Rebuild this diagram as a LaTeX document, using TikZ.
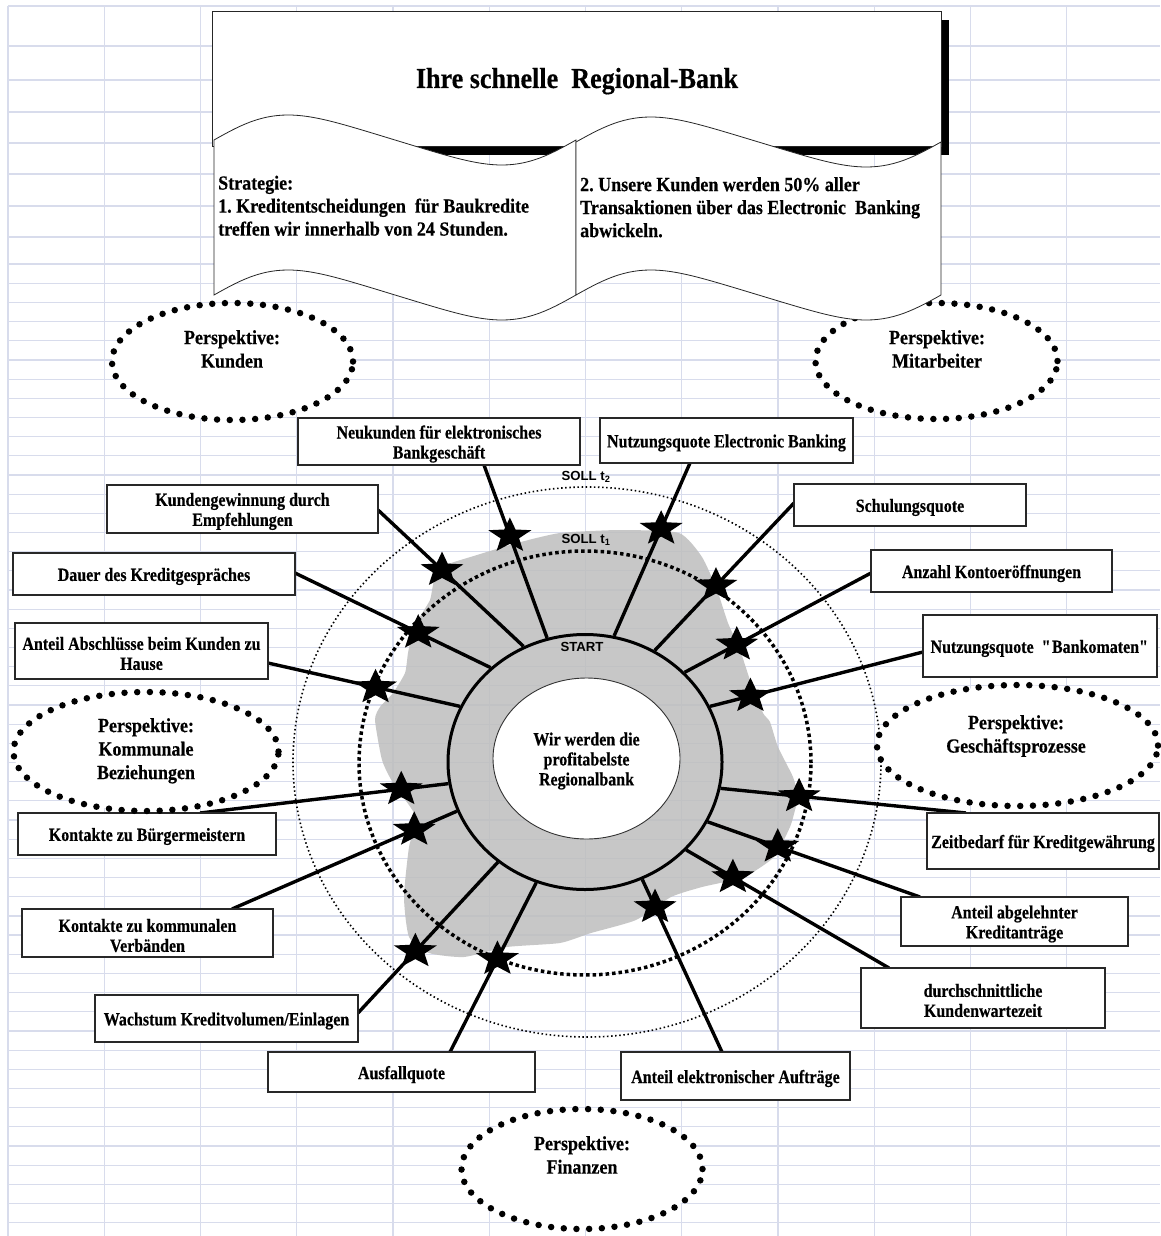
\documentclass[tikz,border=0pt]{standalone}
\usepackage{fontspec}
\setmainfont{Liberation Serif}[FakeStretch=0.9, BoldFeatures={FakeBold=0.4}]
\newfontfamily\boxserif{Liberation Serif}[FakeStretch=0.86, BoldFeatures={FakeBold=0.4}]
\newfontfamily\labelsans{Liberation Sans}
\usetikzlibrary{shapes.geometric,calc}
\definecolor{gridline}{RGB}{216,220,236}
\definecolor{blobgray}{RGB}{190,190,190}
\definecolor{boxline}{RGB}{40,40,40}
\newcommand\txt[2]{\frenchspacing\fontsize{#1}{#2}\selectfont\bfseries}
\newcommand\sanslbl{\labelsans\fontsize{13.2}{15}\selectfont\bfseries}

\begin{document}
\begin{tikzpicture}[x=1pt,y=-1pt,
  boxtext/.style={font=\boxserif\txt{18.6}{20}, align=center, inner sep=0pt, yshift=-2.5pt},
  kpibox/.style={draw=boxline, line width=1.1pt, fill=white, inner sep=0pt,
    label={[boxtext]center:{#1}}},
  perspective/.style={ellipse, draw, fill=white, line width=6.5pt, line cap=round,
    dash pattern=on 0pt off 12.7pt, inner sep=0pt},
  perlabel/.style={anchor=north, align=center, inner sep=0pt, font=\txt{20}{23.5}},
  spoke/.style={line width=3.4pt},
  wavebox/.style={draw=black!85, line width=0.8pt, fill=white},
  gridrule/.style={draw=gridline, line width=1.2pt},
  starmark/.pic={\fill[xscale=1.1, yscale=0.9] (-90:20.5) -- (-126:8.8) -- (-162:20.5)
    -- (-198:8.8) -- (-234:20.5) -- (-270:8.8) -- (-306:20.5) -- (-342:8.8) -- (-378:20.5)
    -- (-414:8.8) -- cycle;},
  ]
\useasboundingbox (0,0) rectangle (1160,1236);
\fill[white] (0,0) rectangle (1160,1236);

% spreadsheet grid
\foreach \gx in {0,...,11}
  \draw[gridrule] ({8+96.25*\gx},6) -- ({8+96.25*\gx},1236);
\foreach \gy in {6,46,80,112,143,174,206,237,264}
  \draw[gridrule] (8,\gy) -- (1160,\gy);
\foreach \k in {0,...,49}
  \draw[gridrule] (8,{283.3+19.17*\k}) -- (1160,{283.3+19.17*\k});

% grey area of the current state
\fill[blobgray, fill opacity=0.85] plot[smooth cycle, tension=0.35] coordinates {
  (438,568) (477,555) (517,543) (560,533) (620,530) (679,533) (702,557) (717,590)
  (728,623) (740,650) (751,683) (763,713) (770,722) (778,747) (793,777) (798,797)
  (795,810) (790,827) (774,857) (744,877) (702,887) (671,897) (636,920) (591,933)
  (560,943) (507,947) (464,957) (429,953) (409,937) (404,897) (409,847) (416,817)
  (393,783) (382,760) (375,720) (380,707) (393,693) (405,673) (408,653) (413,630)
  (421,615) (430,600) (433,585)};

% target circles and centre
\node[ellipse, draw, line width=1.6pt, dash pattern=on 1.5pt off 2.6pt,
  minimum width=588pt, minimum height=550pt, inner sep=0pt] (solltwo) at (587,762) {};
\node[ellipse, draw, line width=3.5pt, dash pattern=on 3.5pt off 3pt,
  minimum width=452pt, minimum height=424pt, inner sep=0pt] (sollone) at (585,763) {};
\node[ellipse, draw, line width=3pt, minimum width=274pt, minimum height=255pt,
  inner sep=0pt] (ring) at (585,762) {};
\node[ellipse, draw=black!80, line width=0.9pt, fill=white, minimum width=187pt,
  minimum height=161pt, inner sep=0pt,
  label={[boxtext]center:{Wir werden die\\profitabelste\\Regionalbank}}]
  (core) at (586.5,758.5) {};

\node[inner sep=0pt, font=\sanslbl] (startlbl) at (582,647) {START};
\node[inner sep=0pt, font=\sanslbl] (sollTwoLbl) at (586,477) {SOLL t\textsubscript{2}};
\node[inner sep=0pt, font=\sanslbl] (sollOneLbl) at (586,540) {SOLL t\textsubscript{1}};

% connector end points on the indicator boxes
\coordinate (e1) at (484,465);
\coordinate (e2) at (690,463);
\coordinate (e3) at (378,510);
\coordinate (e4) at (794,503);
\coordinate (e5) at (295,573);
\coordinate (e6) at (871,573);
\coordinate (e7) at (268,663);
\coordinate (e8) at (923,652);
\coordinate (e9) at (200,813);
\coordinate (e10) at (232,909);
\coordinate (e11) at (358,1013);
\coordinate (e12) at (450,1052);
\coordinate (e13) at (722,1052);
\coordinate (e14) at (889,968);
\coordinate (e15) at (920,897);
\coordinate (e16) at (966,813);

% spokes
\draw[spoke] (ring.107.7) -- (e1);
\draw[spoke] (ring.77.3) -- (e2);
\draw[spoke] (ring.118.5) -- (e3);
\draw[spoke] (ring.58.9) -- (e4);
\draw[spoke] (ring.135) -- (e5);
\draw[spoke] (ring.42.9) -- (e6);
\draw[spoke] (ring.156.3) -- (e7);
\draw[spoke] (ring.24.1) -- (e8);
\draw[spoke] (ring.189.6) -- (e9);
\draw[spoke] (ring.201.9) -- (e10);
\draw[spoke] (ring.229.3) -- (e11);
\draw[spoke] (ring.248.3) -- (e12);
\draw[spoke] (ring.296.2) -- (e13);
\draw[spoke] (ring.319.6) -- (e14);
\draw[spoke] (ring.334.7) -- (e15);
\draw[spoke] (ring.349.4) -- (e16);

% stars marking the achieved value on each spoke
\pic at ($(ring.107.7)!0.59!(e1)$) {starmark};
\pic at ($(ring.77.3)!0.62!(e2)$) {starmark};
\pic at ($(ring.118.5)!0.56!(e3)$) {starmark};
\pic at ($(ring.58.9)!0.44!(e4)$) {starmark};
\pic at ($(ring.135)!0.37!(e5)$) {starmark};
\pic at ($(ring.42.9)!0.28!(e6)$) {starmark};
\pic at ($(ring.156.3)!0.44!(e7)$) {starmark};
\pic at ($(ring.24.1)!0.19!(e8)$) {starmark};
\pic at ($(ring.189.6)!0.19!(e9)$) {starmark};
\pic at ($(ring.201.9)!0.19!(e10)$) {starmark};
\pic at ($(ring.229.3)!0.59!(e11)$) {starmark};
\pic at ($(ring.248.3)!0.45!(e12)$) {starmark};
\pic at ($(ring.296.2)!0.16!(e13)$) {starmark};
\pic at ($(ring.319.6)!0.23!(e14)$) {starmark};
\pic at ($(ring.334.7)!0.33!(e15)$) {starmark};
\pic at ($(ring.349.4)!0.32!(e16)$) {starmark};

% indicator boxes
\node[kpibox={Neukunden für elektronisches\\Bankgeschäft}, minimum width=282pt, minimum height=47pt] (nk) at (439,441.5) {};
\node[kpibox={Nutzungsquote Electronic Banking}, minimum width=253pt, minimum height=45pt] (neb) at (726.5,440.5) {};
\node[kpibox={Kundengewinnung durch\\Empfehlungen}, minimum width=271pt, minimum height=48pt] (kge) at (242.5,509) {};
\node[kpibox={Schulungsquote}, minimum width=232pt, minimum height=42pt] (sq) at (910,505) {};
\node[kpibox={Dauer des Kreditgespräches}, minimum width=282pt, minimum height=42pt] (dk) at (154,574) {};
\node[kpibox={Anzahl Kontoeröffnungen}, minimum width=241pt, minimum height=42pt] (ak) at (991.5,571) {};
\node[kpibox={Anteil Abschlüsse beim Kunden zu\\Hause}, minimum width=253pt, minimum height=56pt] (aa) at (141.5,651) {};
\node[kpibox={Nutzungsquote\ \ \textquotedbl Bankomaten\textquotedbl}, minimum width=234pt, minimum height=62pt] (bk) at (1040,646) {};
\node[kpibox={Kontakte zu Bürgermeistern}, minimum width=258pt, minimum height=42pt] (bm) at (147,834) {};
\node[kpibox={Kontakte zu kommunalen\\Verbänden}, minimum width=251pt, minimum height=48pt] (kv) at (147.5,933) {};
\node[kpibox={Wachstum Kreditvolumen/Einlagen}, minimum width=263pt, minimum height=47pt] (wk) at (226.5,1018.5) {};
\node[kpibox={Ausfallquote}, minimum width=267pt, minimum height=40pt] (af) at (401.5,1072) {};
\node[kpibox={Zeitbedarf für Kreditgewährung}, minimum width=232pt, minimum height=56pt] (zb) at (1043,841) {};
\node[kpibox={Anteil abgelehnter\\Kreditanträge}, minimum width=227pt, minimum height=49pt] (ab) at (1014.5,921.5) {};
\node[kpibox={durchschnittliche\\Kundenwartezeit}, minimum width=244pt, minimum height=60pt] (dw) at (983,998) {};
\node[kpibox={Anteil elektronischer Aufträge}, minimum width=229pt, minimum height=48pt] (ae) at (735.5,1076) {};

% perspectives
\node[perspective, minimum width=241pt, minimum height=117pt] (pkunden) at (232.5,361.5) {};
\node[perlabel] (pkundenlbl) at (232,330) {Perspektive:\\Kunden};
\node[perspective, minimum width=242pt, minimum height=116pt] (pmitarb) at (936.5,361) {};
\node[perlabel] (pmitarblbl) at (937,330) {Perspektive:\\Mitarbeiter};
\node[perspective, minimum width=265pt, minimum height=119pt] (pkomm) at (146,751.5) {};
\node[perlabel] (pkommlbl) at (146,718) {Perspektive:\\Kommunale\\Beziehungen};
\node[perspective, minimum width=281pt, minimum height=121pt] (pproz) at (1017.5,745.5) {};
\node[perlabel] (pprozlbl) at (1016,715) {Perspektive:\\Geschäftsprozesse};
\node[perspective, minimum width=241pt, minimum height=120pt] (pfin) at (582,1169) {};
\node[perlabel] (pfinlbl) at (582,1136) {Perspektive:\\Finanzen};

% banner with the vision and the two strategy statements
\fill[black] (221,20) rectangle (949,155);
\draw[wavebox] (212,11) rectangle (941,146);
\node[anchor=base, inner sep=0pt, font=\txt{29}{32}] (title) at (577,88) {Ihre schnelle\ \ Regional-Bank};
% wave edges: phase is skewed so the crest comes early and the trough late
\draw[wavebox]
  plot[domain=214:576, samples=70] (\x,{140-25*sin((\x-214)/362*360+17*sin((\x-214)/362*360))})
  -- plot[domain=576:214, samples=70] (\x,{295-25*sin((\x-214)/362*360+17*sin((\x-214)/362*360))})
  -- cycle;
\draw[wavebox]
  plot[domain=576:941, samples=70] (\x,{142-25*sin((\x-576)/365*360+17*sin((\x-576)/365*360))})
  -- plot[domain=941:576, samples=70] (\x,{295-25*sin((\x-576)/365*360+17*sin((\x-576)/365*360))})
  -- cycle;
\node[anchor=north west, align=left, inner sep=0pt, font=\txt{20}{23}] (goalone) at (218,175.5)
  {Strategie:\\1. Kreditentscheidungen\ \ für Baukredite\\treffen wir innerhalb von 24 Stunden.};
\node[anchor=north west, align=left, inner sep=0pt, font=\txt{20}{23}] (goaltwo) at (580,177)
  {2. Unsere Kunden werden 50\% aller\\Transaktionen über das Electronic\ \ Banking\\abwickeln.};
\end{tikzpicture}
\end{document}
